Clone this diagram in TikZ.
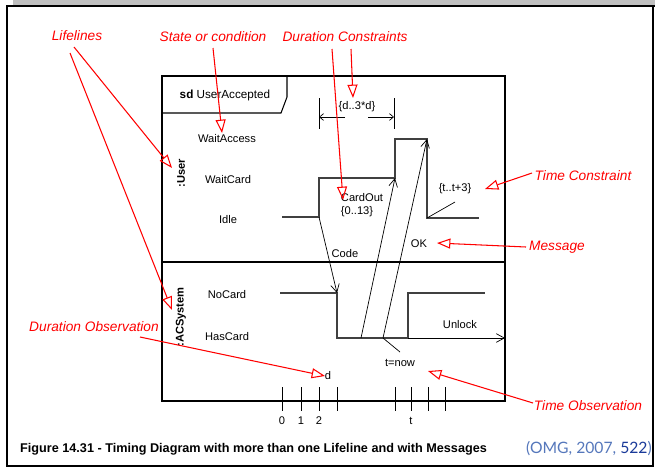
\documentclass[tikz,border=0pt]{standalone}
\usepackage{fontspec}
\setmainfont{Liberation Sans}
\newfontfamily\citefont{Lato}
\usetikzlibrary{arrows.meta, positioning}
\definecolor{NoteRed}{HTML}{FF0000}
\definecolor{TrackGray}{HTML}{404040}
\definecolor{BarGray}{HTML}{C0C0C0}
\definecolor{CiteBlue}{HTML}{5577BB}
\definecolor{CiteDark}{HTML}{1A3A99}

\begin{document}
\begin{tikzpicture}[
    x=0.03cm, y=-0.03cm,
    state/.style={font=\fontsize{9.5}{11}\selectfont, inner sep=0pt},
    lifeline/.style={font=\fontsize{9.5}{11}\selectfont\bfseries, rotate=90, inner sep=0pt},
    note/.style={font=\fontsize{11.7}{13}\selectfont\itshape, text=NoteRed, inner sep=0pt},
    track/.style={draw=TrackGray, line width=0.9pt},
    msg/.style={-{Straight Barb[length=2.4mm, width=2.6mm]}, line width=0.6pt},
    span/.style={-{Straight Barb[length=1.2mm, width=2mm]}, line width=0.6pt},
    pointer/.style={-{Triangle[open, length=4mm, width=3mm]}, draw=NoteRed, line width=0.9pt},
    tick/.style={line width=0.7pt}
]
\useasboundingbox (0,0) rectangle (655,468);

% page frame
\fill[BarGray] (13,0) rectangle (655,5);
\draw[line width=1.6pt] (7,6) rectangle (653,466);
\draw[line width=1.6pt] (653,6) -- (655,6);

% sd frame and lifeline split
\draw[line width=0.9pt] (162,76) rectangle (505,401);
\draw[line width=0.9pt] (162,113) -- (281,113) -- (287,97) -- (287,76);
\draw[line width=1.4pt] (162,262) -- (505,262);
\node[state, font=\fontsize{10}{12}\selectfont] (title) at (225,95) {\textbf{sd} UserAccepted};

\node[lifeline] (user) at (181,173) {:User};
\node[lifeline] (system) at (181,317) {:ACSystem};

% states
\node[state] (waitaccess) at (227,139) {WaitAccess};
\node[state] (waitcard) at (228,180) {WaitCard};
\node[state] (idle) at (228,220) {Idle};
\node[state] (nocard) at (227,295) {NoCard};
\node[state] (hascard) at (227,337) {HasCard};

% time points
\coordinate (codeS) at (319,217);
\coordinate (codeE) at (337,293);
\coordinate (cardS) at (361,338);
\coordinate (cardE) at (395,178);
\coordinate (okS) at (383,338);
\coordinate (okE) at (427,139);
\coordinate (unlockS) at (408,338);
\coordinate (unlockE) at (505,338);
\coordinate (idleEnd) at (427,218);

% state tracks
\draw[track] (282,217) -- (codeS) -- (319,178) -- (cardE) -- (395,139) -- (okE) -- (idleEnd) -- (479,218);
\draw[track] (280,293) -- (codeE) -- (337,338) -- (unlockS) -- (408,293) -- (485,293);

% messages
\draw[msg] (codeS) -- (codeE);
\draw[msg] (cardS) -- (cardE);
\draw[msg] (okS) -- (okE);
\draw[msg] (unlockS) -- (unlockE);

\node[state] (code) at (345,254) {Code};
\node[state] (cardout) at (362,198) {CardOut};
\node[state] (cardrange) at (357,212) {\{0..13\}};
\node[state] (ok) at (419,244) {OK};
\node[state] (unlock) at (460,325) {Unlock};

% constraints and observations
\node[state] (tconstr) at (455,189) {\{t..t+3\}};
\draw[line width=0.6pt] (idleEnd) -- (455,202);
\node[state] (tnow) at (400,363) {t=now};
\draw[line width=0.6pt] (okS) -- (400,352);
\node[state] (dobs) at (328,376) {d};

\node[state] (dconstr) at (357,107) {\{d..3*d\}};
\draw[tick] (319,98) -- (319,129);
\draw[tick] (394,98) -- (394,129);
\draw[span] (345,117) -- (319,117);
\draw[span] (368,117) -- (394,117);

% time ruler
\foreach \t in {282,301,319,337,395,411,428,445}
  \draw[tick] (\t,387) -- (\t,411);
\node[state] (t0) at (282,421) {0};
\node[state] (t1) at (301,421) {1};
\node[state] (t2) at (319,421) {2};
\node[state] (tt) at (411,421) {t};

% red annotations
\node[note] (lifelines) at (77,36) {Lifelines};
\node[note] (statenote) at (213,37) {State or condition};
\node[note] (durconstr) at (345,37) {Duration Constraints};
\node[note] (timeconstr) at (583,176) {Time Constraint};
\node[note] (message) at (557,247) {Message};
\node[note] (durobs) at (94,327) {Duration Observation};
\node[note] (timeobs) at (588,406) {Time Observation};

\draw[pointer] (74,47) -- (172,168);
\draw[pointer] (70,53) -- (172,310);
\draw[pointer] (213,48) -- (222,133);
\draw[pointer] (332,49) -- (343,200);
\draw[pointer] (351,49) -- (353,98);
\draw[pointer] (532,173) -- (485,189);
\draw[pointer] (526,247) -- (437,243);
\draw[pointer] (140,337) -- (325,376);
\draw[pointer] (533,403) -- (428,371);

% caption
\node[anchor=west, inner sep=0pt, font=\fontsize{10.8}{12}\selectfont\bfseries] (caption) at (20,449)
  {Figure 14.31 - Timing Diagram with more than one Lifeline and with Messages};
\node[anchor=east, inner sep=0pt, font=\citefont\fontsize{13.4}{15}\selectfont] (cite) at (652,449)
  {\textcolor{CiteBlue}{(OMG, 2007, }\textcolor{CiteDark}{522}\textcolor{CiteBlue}{)}};
\end{tikzpicture}
\end{document}
